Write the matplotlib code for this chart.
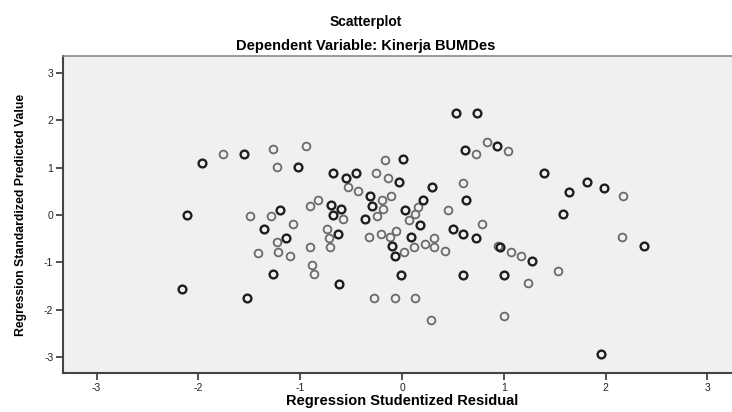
import matplotlib
matplotlib.use("Agg")
import matplotlib.pyplot as plt

# puntos oscuros (superpuestos) y puntos grises
dark_x = [-1.96, -1.55, -2.11, -1.20, -1.36, -1.14, -1.02, -1.27, -2.16, -1.52,
          -0.63, -0.62, -0.10, -0.07, 0.09, 0.18, 0.50, 0.60, 0.73, 0.96,
          -0.01, 0.60, 1.00, 1.28, 2.38, 1.95, -0.68, -0.55, -0.45, 0.01,
          -0.03, -0.31, -0.70, -0.60, -0.68, -0.29, -0.36, 0.03, 0.21, 0.29,
          0.63, 0.53, 0.74, 0.93, 0.62, 1.39, 1.82, 1.98, 1.64, 1.58]
dark_y = [1.10, 1.28, 0.01, 0.11, -0.30, -0.48, 1.01, -1.25, -1.56, -1.74,
          -0.39, -1.46, -0.65, -0.86, -0.47, -0.20, -0.30, -0.39, -0.49, -0.68,
          -1.27, -1.27, -1.26, -0.96, -0.65, -2.93, 0.89, 0.79, 0.88, 1.19,
          0.70, 0.40, 0.21, 0.12, 0.01, 0.20, -0.08, 0.11, 0.31, 0.59,
          0.31, 2.16, 2.16, 1.46, 1.37, 0.89, 0.70, 0.57, 0.49, 0.02]

gray_x = [-1.76, -1.27, -1.23, -1.49, -1.29, -0.94, -0.90, -0.83, -1.07, -1.23,
          -1.41, -1.22, -1.10, -0.90, -0.88, -0.86, -0.74, -0.72, -0.71, -0.32,
          -0.21, -0.12, -0.06, 0.02, 0.12, 0.23, 0.31, 0.31, 0.42, 0.79,
          0.94, 1.07, 1.17, 1.24, 1.53, -0.28, -0.07, 0.13, 0.28, 1.00,
          2.16, -0.53, -0.43, -0.26, -0.17, -0.14, -0.20, -0.11, -0.58, -0.19,
          -0.25, 0.16, 0.13, 0.07, 0.45, 0.60, 0.83, 1.04, 0.73, 2.17]
gray_y = [1.28, 1.39, 1.01, -0.01, -0.01, 1.46, 0.20, 0.31, -0.19, -0.57,
          -0.79, -0.77, -0.86, -0.68, -1.06, -1.25, -0.30, -0.48, -0.67, -0.46,
          -0.39, -0.46, -0.34, -0.77, -0.67, -0.60, -0.49, -0.67, -0.75, -0.19,
          -0.65, -0.77, -0.86, -1.44, -1.17, -1.75, -1.75, -1.75, -2.22, -2.12,
          -0.46, 0.59, 0.50, 0.89, 1.16, 0.79, 0.31, 0.41, -0.08, 0.13,
          -0.01, 0.18, 0.02, -0.10, 0.11, 0.68, 1.55, 1.36, 1.28, 0.40]

ticks = [-3, -2, -1, 0, 1, 2, 3]

plt.rcParams['font.family'] = ['Liberation Sans', 'DejaVu Sans']

fig = plt.figure(figsize=(7.32, 4.12), dpi=100)
ax = fig.add_axes([0.0861, 0.0947, 0.9262, 0.769])
ax.set_facecolor('#f0f0f0')

ax.plot(gray_x, gray_y, 'o', markersize=5.6, markerfacecolor='none',
        markeredgecolor='#6a6a6a', markeredgewidth=1.3, linestyle='none')
ax.plot(dark_x, dark_y, 'o', markersize=5.6, markerfacecolor='none',
        markeredgecolor='#1e1e1e', markeredgewidth=1.7, linestyle='none')

ax.set_xlim(-3.33, 3.33)
ax.set_ylim(-3.33, 3.35)
ax.set_xticks(ticks)
ax.set_yticks(ticks)
ax.set_xticklabels([str(t) for t in ticks])
ax.set_yticklabels([str(t) for t in ticks])
ax.tick_params(direction='out', length=5, width=1.2, color='#333333',
               labelsize=7.5, pad=2, labelcolor='#222222')

for s in ['left', 'bottom']:
    ax.spines[s].set_color('#444444')
    ax.spines[s].set_linewidth(1.5)
ax.spines['top'].set_color('#8a8a8a')
ax.spines['top'].set_linewidth(1.2)
ax.spines['right'].set_visible(False)

fig.text(0.5, 0.947, 'Scatterplot', ha='center', va='center',
         fontsize=10, fontweight='bold')
fig.text(0.5, 0.889, 'Dependent Variable: Kinerja BUMDes', ha='center',
         va='center', fontsize=10.5, fontweight='bold')
ax.set_xlabel('Regression Studentized Residual', fontsize=10.5,
              fontweight='bold', labelpad=1)
ax.set_ylabel('Regression Standardized Predicted Value', fontsize=8.8,
              fontweight='bold', labelpad=12)

fig.savefig('out.png', dpi=100)
